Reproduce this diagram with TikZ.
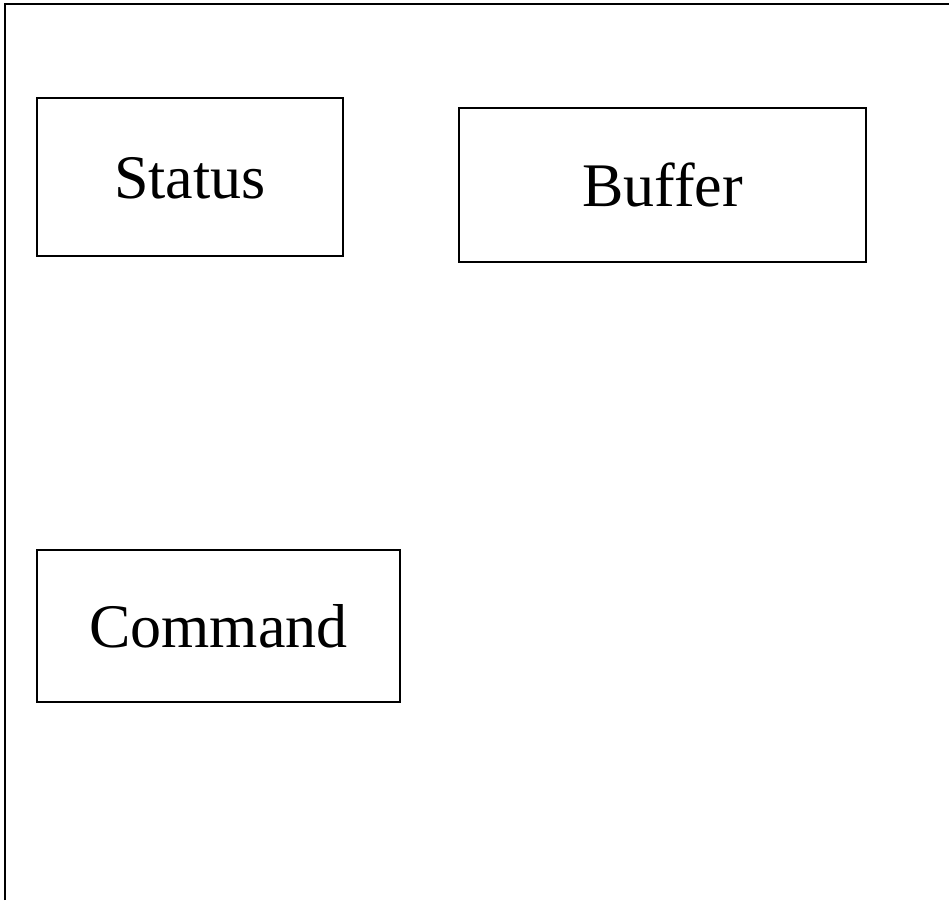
\documentclass[tikz,border=0pt]{standalone}
\usepackage{fontspec}
\setmainfont{Liberation Serif}
\begin{document}
\begin{tikzpicture}[x=1pt,y=-1pt,
  block/.style={draw=black, line width=1.3pt, rectangle, inner sep=0pt,
    font=\fontsize{62}{70}\selectfont, text height=43pt, text depth=0pt}]
  \useasboundingbox (0,0) rectangle (949,900);
  % outer frame, only the left and top edges fall on the page
  \coordinate (fb) at (5,900);
  \coordinate (fc) at (5,4);
  \coordinate (fr) at (949,4);
  \draw[line width=2pt] (fb) -- (fc) -- (fr);
  \node[block, minimum width=306pt, minimum height=158pt] (status) at (190,177) {Status};
  \node[block, minimum width=407pt, minimum height=154pt] (buffer) at (662.5,185) {Buffer};
  \node[block, minimum width=363pt, minimum height=152pt] (command) at (218.5,626) {Command};
\end{tikzpicture}
\end{document}
